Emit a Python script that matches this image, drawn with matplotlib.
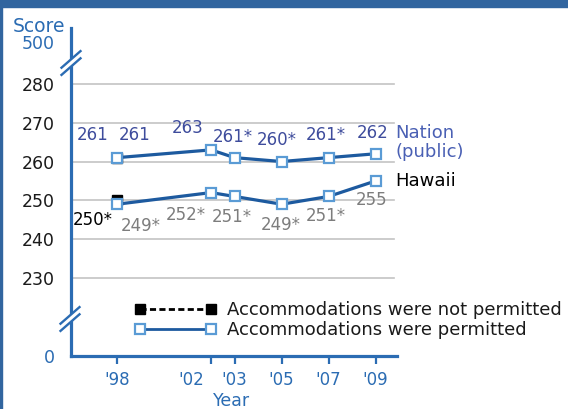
import matplotlib
matplotlib.use('Agg')
import matplotlib.pyplot as plt
from matplotlib.lines import Line2D
from matplotlib.patches import Rectangle
from matplotlib.transforms import IdentityTransform, ScaledTranslation

# ---------------- data ----------------
years = [1998, 2002, 2003, 2005, 2007, 2009]
year_labels = ["'98", "'02", "'03", "'05", "'07", "'09"]

nation = [261, 263, 261, 260, 261, 262]
nation_labels = ["261", "263", "261*", "260*", "261*", "262"]
hawaii = [249, 252, 251, 249, 251, 255]
hawaii_labels = ["249*", "252*", "251*", "249*", "251*", "255"]

np_years = [1998]
nation_np = [261]
nation_np_labels = ["261"]
hawaii_np = [250]
hawaii_np_labels = ["250*"]

y_ticks = [230, 240, 250, 260, 270, 280]
y_tick_labels = ["230", "240", "250", "260", "270", "280"]
legend_labels = ["Accommodations were not permitted",
                 "Accommodations were permitted"]

# ---------------- layout / style ----------------
W, H = 568, 409
AX_BLUE = '#2b6cb3'
LINE_BLUE = '#1d5a9f'
MK_BLUE = '#5a9bd5'
NAT_LBL = '#3e4c9c'
NAT_NAME = '#4a60b4'
GRAY = '#7d7d7d'

plt.rcParams['font.family'] = ['DejaVu Sans']

fig = plt.figure(figsize=(W / 100, H / 100), dpi=100)
fig.patch.set_facecolor('white')

def fx(x):
    return x / W

def fy(y):
    return 1 - y / H

ax = fig.add_axes([fx(71), fy(356), (397 - 71) / W, (356 - 28) / H])
ax.set_xlim(1996.04, 2009.91)
ax.set_ylim(209.9, 294.4)
ax.set_facecolor('none')

for s in ['top', 'right']:
    ax.spines[s].set_visible(False)
for s in ['left', 'bottom']:
    ax.spines[s].set_color(AX_BLUE)
    ax.spines[s].set_linewidth(2.3)
    ax.spines[s].set_capstyle('projecting')

# gridlines
for t in y_ticks:
    ax.axhline(t, xmin=0, xmax=0.99, color='#c4c4c4', lw=1.2, zorder=0)

# y ticks
ax.set_yticks([209.9] + y_ticks)
ax.set_yticklabels(["0"] + y_tick_labels, fontsize=12.5)
ax.tick_params(axis='y', length=0, pad=11.5, labelcolor='#1a1a1a')
ax.get_yticklabels()[0].set_color(AX_BLUE)

# x ticks
ax.set_xticks(years)
ax.set_xticklabels(year_labels, fontsize=12, color=AX_BLUE)
ax.tick_params(axis='x', direction='out', length=6, width=1.6,
               color=AX_BLUE, pad=4.5)
lbl02 = ax.get_xticklabels()[1]
lbl02.set_transform(lbl02.get_transform() +
                    ScaledTranslation(-0.2, 0, fig.dpi_scale_trans))

# not-permitted points (drawn first, behind)
ax.plot(np_years, nation_np, ls='none', marker='s', ms=6.5,
        mfc='black', mec='black', zorder=3)
ax.plot(np_years, hawaii_np, ls='none', marker='s', ms=6.5,
        mfc='black', mec='black', zorder=3)

# permitted series
mk = dict(marker='s', ms=7, mfc='white', mec=MK_BLUE, mew=1.6)
ax.plot(years, nation, color=LINE_BLUE, lw=2.3, zorder=4, **mk)
ax.plot(years, hawaii, color=LINE_BLUE, lw=2.3, zorder=4, **mk)

# data labels
nat_off = [(18, 23), (-23, 22), (-2, 21), (-5, 22), (-3, 23), (-3, 21)]
haw_off = [(24, -22), (-25, -22), (-3, -21), (-1, -21), (-3, -20), (-4, -19)]
for x, v, lab, off in zip(years, nation, nation_labels, nat_off):
    ax.annotate(lab, (x, v), xytext=off, textcoords='offset pixels',
                ha='center', va='center', fontsize=12, color=NAT_LBL)
for x, v, lab, off in zip(years, hawaii, hawaii_labels, haw_off):
    ax.annotate(lab, (x, v), xytext=off, textcoords='offset pixels',
                ha='center', va='center', fontsize=12, color=GRAY)
for x, v, lab in zip(np_years, nation_np, nation_np_labels):
    ax.annotate(lab, (x, v), xytext=(-24, 23), textcoords='offset pixels',
                ha='center', va='center', fontsize=12, color=NAT_LBL)
for x, v, lab in zip(np_years, hawaii_np, hawaii_np_labels):
    ax.annotate(lab, (x, v), xytext=(-24, -20), textcoords='offset pixels',
                ha='center', va='center', fontsize=12, color='black')

# series names
ax.annotate("Nation\n(public)", (years[-1], nation[-1]), xytext=(20, 11),
            textcoords='offset pixels', ha='left', va='center',
            fontsize=13, color=NAT_NAME, linespacing=1.1)
ax.annotate("Hawaii", (years[-1], hawaii[-1]), xytext=(20, 0),
            textcoords='offset pixels', ha='left', va='center',
            fontsize=13, color='black')

# legend
handles = [
    Line2D([], [], color='black', ls=(0, (2.2, 1.2)), lw=2, marker='s',
           ms=7, mfc='black', mec='black'),
    Line2D([], [], color=LINE_BLUE, lw=2, marker='s', ms=7,
           mfc='white', mec=MK_BLUE, mew=1.6),
]
leg = ax.legend(handles, legend_labels, loc='upper left',
                bbox_to_anchor=(fx(134.6), fy(301)),
                bbox_transform=fig.transFigure, frameon=False, numpoints=2,
                handlelength=4.53, handletextpad=0.59, labelspacing=0.12,
                borderpad=0, borderaxespad=0, fontsize=13)
for t in leg.get_texts():
    t.set_color('#1a1a1a')

# axis break marks
def brk(cx, cy):
    dx, dy, sep = 9.5, 8.3, 3.6
    yc = H - cy
    fig.add_artist(Line2D([cx - dx, cx + dx], [yc - dy, yc + dy],
                          transform=IdentityTransform(), color='white',
                          lw=4.5, solid_capstyle='butt', zorder=5))
    for s in (-sep, sep):
        fig.add_artist(Line2D([cx - dx, cx + dx], [yc - dy + s, yc + dy + s],
                              transform=IdentityTransform(), color=AX_BLUE,
                              lw=1.7, zorder=6))

brk(71, 63)
brk(70, 319)

# axis titles
fig.text(fx(65), fy(26), "Score", ha='right', va='center',
         fontsize=13.5, color=AX_BLUE)
fig.text(fx(55), fy(44), "500", ha='right', va='center',
         fontsize=12.5, color=AX_BLUE)
fig.text(fx(232), fy(401), "Year", ha='center', va='center',
         fontsize=12.5, color=AX_BLUE)

# frame decorations
fig.add_artist(Rectangle((0, fy(7)), 1, 7 / H, transform=fig.transFigure,
                         color='#31659f', zorder=10))
fig.add_artist(Rectangle((0, 0), 2 / W, 1, transform=fig.transFigure,
                         color='#31659f', zorder=10))

fig.savefig('out.png', dpi=100)
